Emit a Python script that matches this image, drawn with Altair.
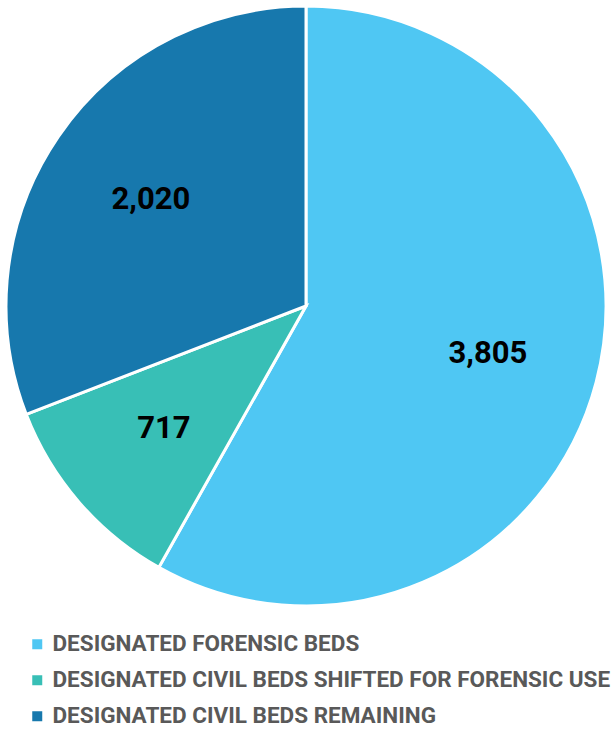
import altair as alt
import pandas as pd

categories = [
    "DESIGNATED FORENSIC BEDS",
    "DESIGNATED CIVIL BEDS SHIFTED FOR FORENSIC USE",
    "DESIGNATED CIVIL BEDS REMAINING",
]
values = [3805, 717, 2020]
labels = ["3,805", "717", "2,020"]
colors = ["#4FC7F3", "#38BFB6", "#1778AD"]

df = pd.DataFrame({"category": categories, "value": values, "label": labels, "order": [0, 1, 2]})

base = alt.Chart(df).encode(
    theta=alt.Theta("value:Q", stack=True),
    order=alt.Order("order:Q"),
    x=alt.value(306),
    y=alt.value(306),
)

pie = base.mark_arc(outerRadius=300, stroke="white", strokeWidth=3).encode(
    color=alt.Color(
        "category:N",
        scale=alt.Scale(domain=categories, range=colors),
        sort=categories,
        legend=alt.Legend(
            title=None,
            orient="none",
            legendX=26,
            legendY=633,
            symbolType="square",
            symbolSize=100,
            symbolStrokeWidth=0,
            labelFont="Roboto",
            labelFontSize=22.5,
            labelFontWeight="bold",
            labelColor="#595959",
            labelLimit=700,
            rowPadding=13,
            labelOffset=4,
        ),
    )
)

text = base.mark_text(
    radius=188, font="Roboto", fontSize=31, fontWeight="bold", color="black"
).encode(text="label:N")

chart = (
    (pie + text)
    .properties(width=613, height=731, padding=0, autosize=alt.AutoSizeParams(type="none"))
    .configure_view(stroke=None)
)

chart.save("out.html", embed_options={"renderer": "svg", "actions": False})
